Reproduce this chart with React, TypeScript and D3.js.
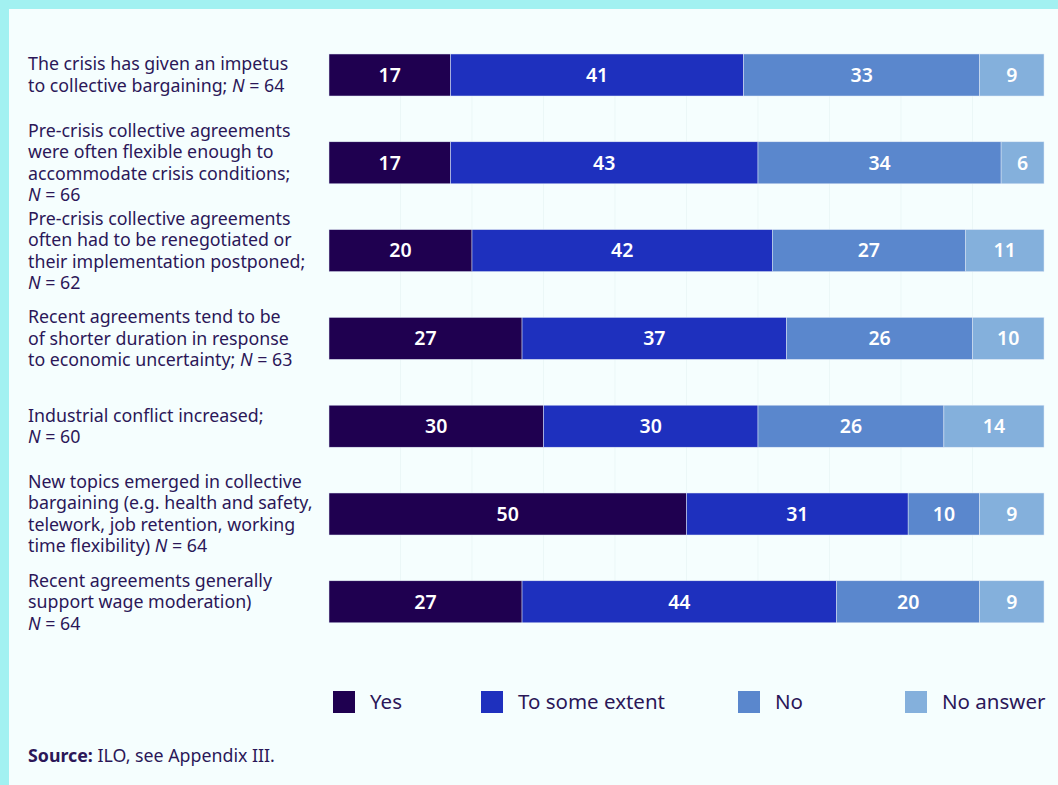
import React from "react";
import * as d3 from "d3";

const categories: string[][] = [
  ["The crisis has given an impetus", "to collective bargaining; |N| = 64"],
  ["Pre-crisis collective agreements", "were often flexible enough to", "accommodate crisis conditions;", "|N| = 66"],
  ["Pre-crisis collective agreements", "often had to be renegotiated or", "their implementation postponed;", "|N| = 62"],
  ["Recent agreements tend to be", "of shorter duration in response", "to economic uncertainty; |N| = 63"],
  ["Industrial conflict increased;", "|N| = 60"],
  ["New topics emerged in collective", "bargaining (e.g. health and safety,", "telework, job retention, working", "time flexibility) |N| = 64"],
  ["Recent agreements generally", "support wage moderation)", "|N| = 64"],
];
const seriesNames = ["Yes", "To some extent", "No", "No answer"];
const yes = [17, 17, 20, 27, 30, 50, 27];
const someExtent = [41, 43, 42, 37, 30, 31, 44];
const no = [33, 34, 27, 26, 26, 10, 20];
const noAnswer = [9, 6, 11, 10, 14, 9, 9];
const colors = ["#1f0050", "#1e30be", "#5a87cd", "#84b0dc"];
const gridTicks = [10, 20, 30, 40, 50, 60, 70, 80, 90];

const W = 1058, H = 785;
const textColor = "#2b1758";

function renderLine(line: string) {
  const parts = line.split("|");
  return parts.map((p, i) =>
    i % 2 === 1 ? <tspan key={i} fontStyle="italic">{p}</tspan> : <tspan key={i}>{p}</tspan>
  );
}

export default function App() {
  const x = d3.scaleLinear().domain([0, 100]).range([329, 1044]);
  const step = 87.8;
  const pi = 1 - 42 / step;
  const a = 54 - step * pi / 2;
  const y = d3.scaleBand().domain(categories.map((_, i) => String(i))).range([a, a + 7 * step]).paddingInner(pi).paddingOuter(pi / 2);
  const rows = categories.map((_, i) => ({
    i,
    vals: [yes[i], someExtent[i], no[i], noAnswer[i]],
  }));
  const stack = d3.stack<any>().keys(["0", "1", "2", "3"]).value((d: any, k: string) => d.vals[+k]);
  const stacked = stack(rows);
  const lh = 21.5;
  const top = y("0")!;
  const bottom = y("6")! + y.bandwidth();
  return (
    <svg width={W} height={H} style={{ position: "absolute", left: 0, top: 0 }} fontFamily="'Noto Sans', sans-serif">
      <rect x={0} y={0} width={W} height={H} fill="#a2f1f1" />
      <rect x={9} y={9} width={W - 9} height={H - 9} fill="#f5fefe" />
      {gridTicks.map((t) => (
        <line key={t} x1={x(t)} x2={x(t)} y1={top} y2={bottom} stroke="#ebf7f7" strokeWidth={1} />
      ))}
      {stacked.map((s, si) =>
        s.map((d, ri) => {
          const y0 = y(String(ri))!;
          const x0 = x(d[0]);
          const x1 = x(d[1]);
          return (
            <g key={si + "-" + ri}>
              <rect x={x0} y={y0} width={x1 - x0} height={y.bandwidth()} fill={colors[si]} stroke="#dfe8f5" strokeWidth={0.5} />
              <text x={(x0 + x1) / 2} y={y0 + y.bandwidth() / 2} dy="0.35em" textAnchor="middle" fill="#ffffff" fontSize={19.5} fontWeight={600}>
                {d[1] - d[0]}
              </text>
            </g>
          );
        })
      )}
      {categories.map((lines, i) => {
        const cy = y(String(i))! + y.bandwidth() / 2;
        const startY = cy - ((lines.length - 1) * lh) / 2;
        return (
          <text key={i} x={28} fill={textColor} fontSize={17.8}>
            {lines.map((ln, j) => (
              <tspan key={j} x={28} y={startY + j * lh} dy="0.35em">{renderLine(ln)}</tspan>
            ))}
          </text>
        );
      })}
      {seriesNames.map((n, i) => {
        const lx = [333, 481, 738, 905][i];
        return (
          <g key={n}>
            <rect x={lx} y={691} width={22} height={22} fill={colors[i]} />
            <text x={lx + 37} y={702} dy="0.35em" fontSize={20.5} fill={textColor}>{n}</text>
          </g>
        );
      })}
      <text x={28} y={762} fontSize={17.8} fill={textColor}>
        <tspan fontWeight={700}>Source:</tspan> ILO, see Appendix III.
      </text>
    </svg>
  );
}
